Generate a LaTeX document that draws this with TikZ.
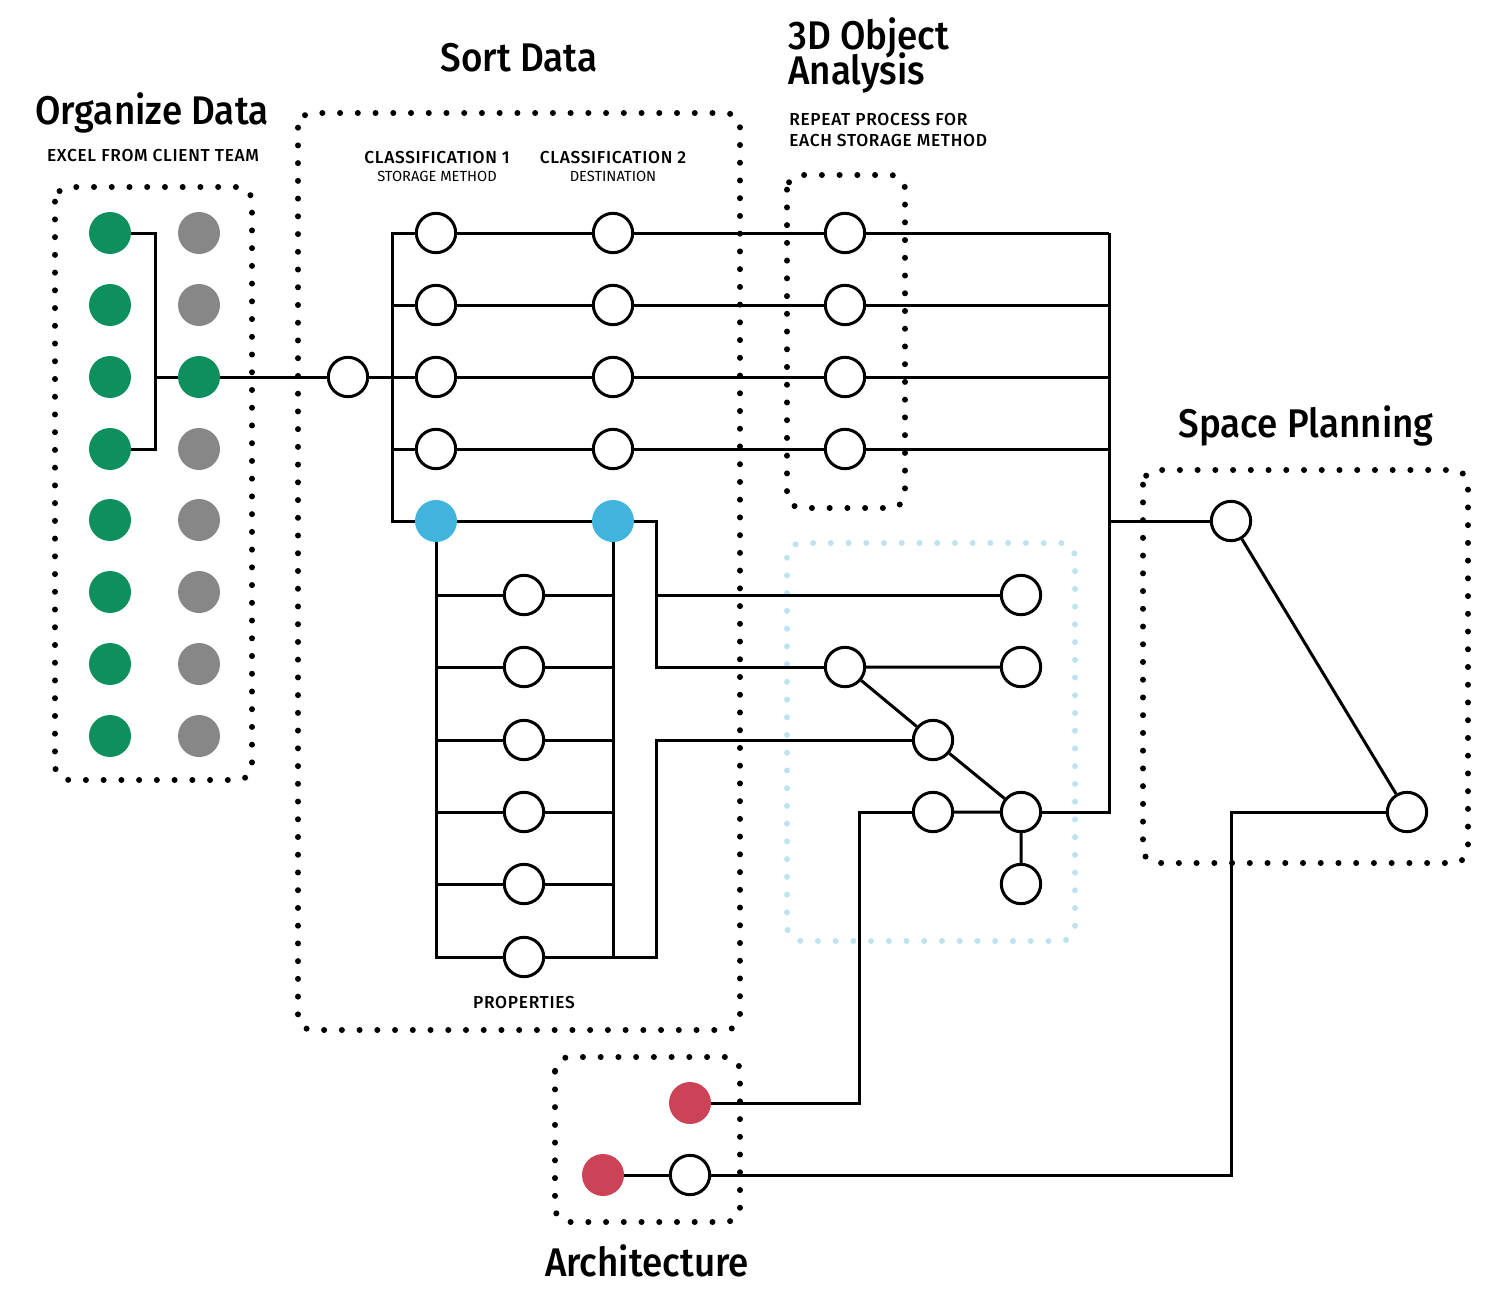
\documentclass[tikz,border=0pt]{standalone}
\usepackage{fontspec}
\setmainfont{Fira Sans}[BoldFont={Fira Sans SemiBold}]
\newfontfamily\medfont{Fira Sans Medium}[LetterSpace=4]
\newfontfamily\headfont{Fira Sans Medium}[FakeStretch=0.92]
\newcommand{\tightlines}{\lineskiplimit=-100pt\relax}
\usepackage{tikz}

\definecolor{orggreen}{RGB}{14,143,94}
\definecolor{orggrey}{RGB}{135,135,135}
\definecolor{clsblue}{RGB}{65,180,222}
\definecolor{archred}{RGB}{204,66,87}
\definecolor{objblue}{RGB}{190,227,239}

\begin{document}
\begin{tikzpicture}[x=0.75pt,y=0.75pt,yscale=-1,xscale=1,
    ring/.style={circle,draw,line width=2.25pt,fill=white,minimum size=29.5pt,inner sep=0pt},
    disc/.style={circle,fill=#1,minimum size=31.5pt,inner sep=0pt},
    wire/.style={line width=2.25pt},
    dotbox/.style={line width=4.5pt,line cap=round,dash pattern=on 0pt off 13.3pt,rounded corners=11pt},
    title/.style={anchor=base,inner sep=0pt,font=\headfont\fontsize{30}{26.25}\selectfont\tightlines},
    capslabel/.style={anchor=base,inner sep=0.75pt,font=\medfont\fontsize{13}{15.75}\selectfont},
    smalllabel/.style={anchor=base,inner sep=0.75pt,font=\fontsize{11}{13}\selectfont}]
    \useasboundingbox (0,0) rectangle (1500,1296);

    %Shape: Dotted Boxes
    \draw [dotbox] (55,187) rectangle (252,780);
    \draw [dotbox] (298,113) rectangle (740,1030);
    \draw [dotbox] (787,175) rectangle (905,508);
    \draw [dotbox,color=objblue] (787,543) rectangle (1075,941);
    \draw [dotbox] (1143,470) rectangle (1468,863);
    \draw [dotbox] (555,1057) rectangle (740,1222);

    %Shape: Organize Data nodes
    \foreach \i/\y in {1/233,2/305,3/377,4/449,5/520,6/592,7/664,8/736} {
        \node [disc=orggreen] (g\i) at (110,\y) {};
    }
    \foreach \i/\y in {1/233,2/305,4/449,5/520,6/592,7/664,8/736} {
        \node [disc=orggrey] (h\i) at (199,\y) {};
    }
    \node [disc=orggreen] (h3) at (199,377) {};

    %Shape: Sort Data nodes
    \node [ring] (hub) at (348,377) {};
    \foreach \i/\y in {1/233,2/305,3/377,4/449} {
        \node [ring] (ca\i) at (436,\y) {};
        \node [ring] (cb\i) at (613,\y) {};
        \node [ring] (d\i) at (845,\y) {};
    }
    \node [disc=clsblue] (ba) at (436,521) {};
    \node [disc=clsblue] (bb) at (613,521) {};
    \foreach \i/\y in {1/595,2/667,3/740,4/812,5/884,6/957} {
        \node [ring] (p\i) at (524,\y) {};
    }

    %Shape: 3D Object Analysis detail nodes
    \node [ring] (e1) at (1021,595) {};
    \node [ring] (e2) at (845,667) {};
    \node [ring] (e3) at (1021,667) {};
    \node [ring] (e4) at (933,740) {};
    \node [ring] (e5) at (933,812) {};
    \node [ring] (e6) at (1021,812) {};
    \node [ring] (e7) at (1021,884) {};

    %Shape: Space Planning and Architecture nodes
    \node [ring] (s1) at (1231,521) {};
    \node [ring] (s2) at (1407,812) {};
    \node [disc=archred] (a1) at (690,1103) {};
    \node [disc=archred] (a2) at (603,1175) {};
    \node [ring] (a3) at (690,1175) {};

    %Straight Lines
    \coordinate (bk) at (155,377);
    \coordinate (rl) at (392,377);
    \coordinate (rr) at (1109,521);
    \coordinate (jt) at (656,595);
    \coordinate (kn) at (859,960);
    \coordinate (ks) at (1231,1000);
    \draw [wire] (g1) -| (bk) |- (g4);
    \draw [wire] (bk) -- (h3) -- (hub) -- (ca3);
    \draw [wire] (ca1) -| (rl) |- (ba);
    \draw [wire] (ca2) -- (ca2 -| rl) (ca4) -- (ca4 -| rl);
    \foreach \i in {1,...,4} {
        \draw [wire] (ca\i) -- (cb\i) -- (d\i) -- (d\i -| rr);
    }
    \draw [wire] (d1 -| rr) -- (rr |- e6) -- (e6);
    \draw [wire] (rr) -- (s1);
    \draw [wire] (ba) -- (bb) -- (bb -| jt) -- (jt |- e2) -- (e2);
    \draw [wire] (jt) -- (e1);
    \draw [wire] (ba) -- (ba |- p6) -- (p6) -- (p6 -| jt) -- (jt |- e4) -- (e4);
    \draw [wire] (bb) -- (bb |- p6);
    \foreach \i in {1,...,5} {
        \draw [wire] (ba |- p\i) -- (p\i) -- (bb |- p\i);
    }
    \draw [wire] (e2) -- (e3) (e2) -- (e4) -- (e6) -- (e5) (e6) -- (e7);
    \draw [wire] (e5) -| (kn) |- (a1);
    \draw [wire] (s1) -- (s2);
    \draw [wire] (s2) -| (ks) |- (a3) -- (a2);

    % Text Node
    \draw (152,124) node [title] (torg) {Organize Data};
    % Text Node
    \draw (153,161) node [capslabel] (texcel) {EXCEL FROM CLIENT TEAM};
    % Text Node
    \draw (519,71) node [title] (tsort) {Sort Data};
    % Text Node
    \draw (437,163) node [capslabel] (tcla) {CLASSIFICATION 1};
    % Text Node
    \draw (437,181) node [smalllabel] (tstor) {STORAGE METHOD};
    % Text Node
    \draw (613,163) node [capslabel] (tclb) {CLASSIFICATION 2};
    % Text Node
    \draw (613,181) node [smalllabel] (tdest) {DESTINATION};
    % Text Node
    \draw (788,84) node [title,anchor=base west,align=left] (tobj) {3D Object\\Analysis};
    % Text Node
    \draw (788,146) node [capslabel,anchor=base west,align=left] (trep) {REPEAT PROCESS FOR\\EACH STORAGE METHOD};
    % Text Node
    \draw (1306,437) node [title] (tspace) {Space Planning};
    % Text Node
    \draw (524,1008) node [capslabel] (tprop) {PROPERTIES};
    % Text Node
    \draw (647,1276) node [title] (tarch) {Architecture};

\end{tikzpicture}
\end{document}
